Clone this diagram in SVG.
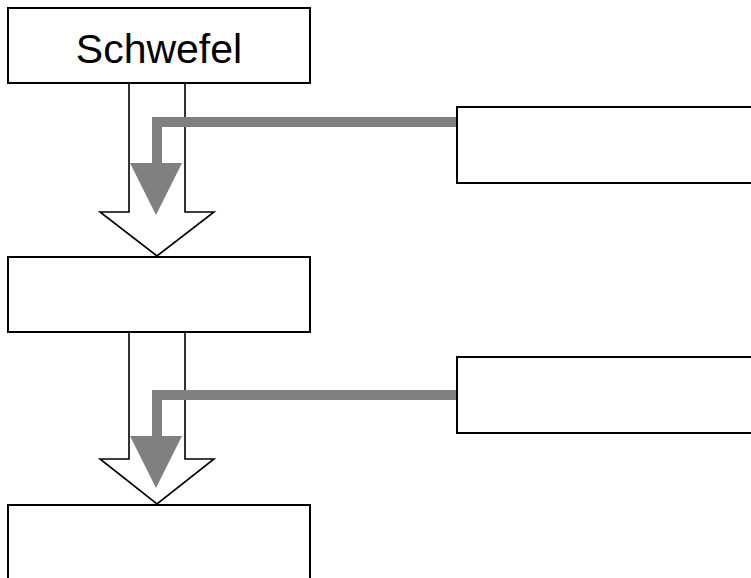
<svg xmlns="http://www.w3.org/2000/svg" width="751" height="578" viewBox="0 0 751 578">
<style>
.box{fill:#fff;stroke:#000;stroke-width:2}
.flow{fill:#fff;stroke:#000;stroke-width:1.6;stroke-linejoin:miter}
.feed{fill:none;stroke:#808080;stroke-width:10;stroke-linejoin:miter}
.feedhead{fill:#808080}
.lbl{font-family:"Liberation Sans",Arial,sans-serif;font-size:41px;fill:#000;text-anchor:middle}
</style>
<rect width="751" height="578" fill="#fff"/>
<g id="connectors">
<path class="flow" d="M129,83 V212 H100 L157,256 L214,212 H185 V83 Z"/>
<path class="flow" d="M129,332 V459 H100 L157,504 L214,459 H185 V332 Z"/>
<path class="feed" d="M457,122 H157 V164"/>
<polygon class="feedhead" points="130,163 182,163 156,215"/>
<path class="feed" d="M457,395 H157 V437"/>
<polygon class="feedhead" points="130,436 182,436 156,488"/>
</g>
<g id="node-schwefel">
<rect class="box" x="8" y="8" width="302" height="75"/>
<text class="lbl" x="159" y="63">Schwefel</text>
</g>
<g id="node-2">
<rect class="box" x="8" y="257" width="302" height="75"/>
</g>
<g id="node-3">
<rect class="box" x="8" y="505" width="302" height="80"/>
</g>
<g id="node-side-1">
<rect class="box" x="457" y="107" width="300" height="76"/>
</g>
<g id="node-side-2">
<rect class="box" x="457" y="357" width="300" height="76"/>
</g>
</svg>
